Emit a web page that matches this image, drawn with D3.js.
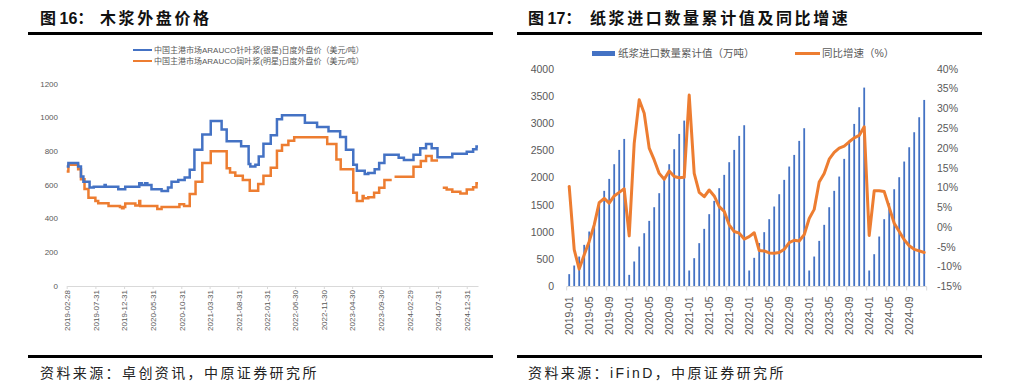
<!DOCTYPE html>
<html><head><meta charset="utf-8">
<script src="https://cdn.jsdelivr.net/npm/d3@7"></script>
<style>
body{margin:0;background:#fff;}
svg{display:block;font-family:"Liberation Sans","Noto Sans CJK SC",sans-serif;}
</style></head><body>
<svg id="c" width="1021" height="383"></svg>
<script>
// ---------- Chart 16 data: step prices (date, USD/t) ----------
const needlePrice = [
["2019-02-28",710],["2019-03-09",730],["2019-04-30",710],["2019-05-15",650],["2019-05-28",620],
["2019-06-30",585],["2019-07-22",590],["2019-09-18",600],["2019-09-24",590],["2019-11-30",575],
["2020-01-06",590],["2020-03-21",610],["2020-04-03",600],["2020-04-21",610],["2020-05-03",600],
["2020-05-25",575],["2020-07-18",565],["2020-08-21",585],["2020-09-09",620],["2020-10-15",630],
["2020-11-18",645],["2020-12-15",690],["2021-01-09",810],["2021-02-20",900],["2021-04-06",980],
["2021-06-03",930],["2021-06-30",860],["2021-09-15",830],["2021-10-25",725],["2021-11-03",710],
["2021-11-30",720],["2021-12-18",770],["2022-01-12",845],["2022-02-20",895],["2022-03-25",990],
["2022-04-21",1015],["2022-08-21",970],["2022-10-25",945],["2022-12-25",920],["2023-02-25",885],
["2023-03-28",810],["2023-05-06",720],["2023-05-25",685],["2023-07-06",665],["2023-07-25",672],
["2023-08-28",693],["2023-09-21",730],["2023-10-19",780],["2024-01-03",762],["2024-01-31",748],
["2024-03-22",780],["2024-04-27",818],["2024-05-28",843],["2024-06-27",818],["2024-07-28",765],
["2024-10-15",785],["2024-12-31",798],["2025-02-03",812],["2025-02-21",828],["2025-03-01",828]
];
const hardwoodPrice = [
["2019-02-28",680],["2019-03-09",720],["2019-04-30",693],["2019-05-15",634],["2019-06-03",576],
["2019-06-24",525],["2019-07-31",505],["2019-08-15",491],["2019-10-09",475],["2019-12-09",470],
["2019-12-20",462],["2019-12-28",470],["2020-01-06",490],["2020-02-29",478],["2020-03-21",505],
["2020-03-26",475],["2020-06-25",457],["2020-07-18",470],["2020-10-21",485],["2020-11-15",475],
["2020-12-15",546],["2021-01-15",620],["2021-02-20",730],["2021-04-06",800],["2021-06-30",700],
["2021-07-18",675],["2021-08-15",655],["2021-09-24",630],["2021-10-31",566],["2021-12-15",606],
["2022-01-12",655],["2022-02-20",703],["2022-03-25",804],["2022-04-21",838],["2022-05-25",863],
["2022-06-25",883],["2022-12-18",843],["2023-02-05",752],["2023-02-28",693],["2023-05-06",554],
["2023-05-25",505],["2023-06-25",535],["2023-06-30",521],["2023-07-25",527],["2023-08-25",554],
["2023-09-21",584],["2023-10-19",630],["2023-11-27",630],["2023-11-28",null],["2023-12-12",649],
["2024-03-22",709],["2024-04-30",743],["2024-05-28",772],["2024-06-27",745],["2024-07-31",745],
["2024-08-01",null],["2024-08-25",584],["2024-09-15",574],["2024-10-15",560],["2024-11-27",550],
["2024-12-31",574],["2025-02-03",586],["2025-02-21",610],["2025-03-01",610]
];
const ticks16 = ["2019-02-28","2019-07-31","2019-12-31","2020-05-31","2020-10-31","2021-03-31",
"2021-08-31","2022-01-31","2022-06-30","2022-11-30","2023-04-30","2023-09-30","2024-02-29",
"2024-07-31","2024-12-31"];
const yTicks16 = [0,200,400,600,800,1000,1200];
const legend16 = ["中国主港市场ARAUCO针叶浆(银星)日度外盘价（美元/吨）","中国主港市场ARAUCO阔叶浆(明星)日度外盘价（美元/吨）"];

// ---------- Chart 17 data ----------
const months17 = [
"2019-01","2019-02","2019-03","2019-04","2019-05","2019-06","2019-07","2019-08","2019-09","2019-10","2019-11","2019-12",
"2020-01","2020-02","2020-03","2020-04","2020-05","2020-06","2020-07","2020-08","2020-09","2020-10","2020-11","2020-12",
"2021-01","2021-02","2021-03","2021-04","2021-05","2021-06","2021-07","2021-08","2021-09","2021-10","2021-11","2021-12",
"2022-01","2022-02","2022-03","2022-04","2022-05","2022-06","2022-07","2022-08","2022-09","2022-10","2022-11","2022-12",
"2023-01","2023-02","2023-03","2023-04","2023-05","2023-06","2023-07","2023-08","2023-09","2023-10","2023-11","2023-12",
"2024-01","2024-02","2024-03","2024-04","2024-05","2024-06","2024-07","2024-08","2024-09","2024-10","2024-11","2024-12"];
const importCum = [
227,386,551,766,1011,1170,1500,1759,1979,2249,2512,2714,
214,460,735,980,1207,1458,1716,1961,2249,2525,2806,3051,
294,521,797,1060,1330,1575,1808,2053,2286,2512,2770,2966,
294,527,800,999,1238,1471,1697,1961,2206,2420,2678,2911,
294,551,839,1134,1458,1759,2022,2347,2665,2990,3297,3658,
294,594,919,1238,1530,1789,2010,2298,2561,2837,3113,3431];
const yoyPct = [
10.3,-5.7,-10.6,-7.0,-3.6,0.6,6.2,7.3,6.1,7.9,8.8,9.7,
-2.2,21.2,32.2,28.8,20.0,17.0,13.6,12.1,14.2,12.8,12.5,12.6,
33.4,13.6,8.8,7.7,9.4,7.9,5.2,4.0,0.6,-1.1,-1.5,-3.0,
-2.4,-1.4,-5.9,-6.0,-6.5,-6.6,-6.4,-5.6,-3.9,-3.3,-3.5,-1.9,
2.2,4.5,11.4,13.6,17.2,18.9,20.0,20.5,21.6,22.6,23.2,25.4,
-2.1,9.2,9.2,9.0,5.0,1.0,-1.1,-3.2,-4.7,-5.6,-6.0,-6.4];
const yTicksL17 = [0,500,1000,1500,2000,2500,3000,3500,4000];
const yTicksR17 = [-15,-10,-5,0,5,10,15,20,25,30,35,40];
const legend17 = ["纸浆进口数量累计值（万吨）","同比增速（%）"];

// ---------- drawing ----------
const svg = d3.select("#c");
const parse = d3.timeParse("%Y-%m-%d");
const gray = "#595959", blue = "#4472C4", orange = "#ED7D31", axisGray = "#d9d9d9";
svg.append("rect").attr("width",1021).attr("height",383).attr("fill","#fff");

function header(x0, num, numX, rest, restX, ruleX0, ruleX1, source){
  const t = svg.append("text").attr("y",24).attr("font-size",16).attr("font-weight","bold").attr("fill","#111");
  t.append("tspan").attr("x",x0).text("图");
  t.append("tspan").attr("x",numX).text(num + "：");
  t.append("tspan").attr("x",restX).attr("letter-spacing",2.6).text(rest);
  svg.append("rect").attr("x",ruleX0).attr("y",32).attr("width",ruleX1-ruleX0).attr("height",3).attr("fill","#000");
  svg.append("rect").attr("x",ruleX0).attr("y",355).attr("width",ruleX1-ruleX0).attr("height",3).attr("fill","#000");
  svg.append("text").attr("x",x0).attr("y",378).attr("font-size",14).attr("letter-spacing",2.4)
    .attr("fill","#222").text(source);
}
header(40,"16",59.5,"木浆外盘价格",100,28,493,"资料来源：卓创资讯，中原证券研究所");
header(528,"17",547.5,"纸浆进口数量累计值及同比增速",590,517,982,"资料来源：iFinD，中原证券研究所");

// ===== Chart 16 =====
const x16 = d3.scaleTime().domain([parse("2019-02-28"), parse("2025-03-01")]).range([66.7, 478]);
const y16 = d3.scaleLinear().domain([0,1200]).range([286,84]);
const g16 = svg.append("g");
g16.selectAll("text.yl").data(yTicks16).join("text").attr("class","yl")
  .attr("x",58).attr("y",d=>y16(d)).attr("dy","0.35em").attr("text-anchor","end")
  .attr("font-size",8).attr("fill",gray).text(d=>d);
const ax16 = g16.append("g").attr("transform","translate(0,286)")
  .call(d3.axisBottom(x16).tickValues(ticks16.map(parse)).tickSize(3).tickSizeOuter(0)
  .tickFormat(d3.timeFormat("%Y-%m-%d")));
ax16.select(".domain").attr("stroke",axisGray);
ax16.selectAll(".tick line").attr("stroke",axisGray);
ax16.selectAll(".tick text").attr("transform","rotate(-90)").attr("text-anchor","end")
  .attr("x",-4).attr("y",0).attr("dy","0.35em").attr("font-size",8).attr("fill",gray)
  .attr("font-family","Liberation Sans");
const line16 = d3.line().defined(d=>d[1]!=null).x(d=>x16(parse(d[0]))).y(d=>y16(d[1])).curve(d3.curveStepAfter);
g16.append("path").datum(hardwoodPrice).attr("d",line16).attr("fill","none").attr("stroke",orange).attr("stroke-width",2.5);
g16.append("path").datum(needlePrice).attr("d",line16).attr("fill","none").attr("stroke",blue).attr("stroke-width",2.5);
[blue,orange].forEach((c,i)=>{
  const yy = 50 + i*11;
  g16.append("line").attr("x1",133).attr("x2",152).attr("y1",yy).attr("y2",yy).attr("stroke",c).attr("stroke-width",2);
  g16.append("text").attr("x",154).attr("y",yy).attr("dy","0.35em").attr("font-size",8).attr("fill",gray).text(legend16[i]);
});

// ===== Chart 17 =====
const xb = d3.scaleBand().domain(months17).range([566.7, 926.7]).padding(0);
const yL = d3.scaleLinear().domain([0,4000]).range([286.5,69]);
const yR = d3.scaleLinear().domain([-15,40]).range([286.5,69]);
const g17 = svg.append("g");
const bw = 1.8;
g17.selectAll("rect.bar").data(months17).join("rect").attr("class","bar")
  .attr("x",(m)=>xb(m)+xb.bandwidth()/2-bw/2).attr("width",bw)
  .attr("y",(m,i)=>yL(importCum[i])).attr("height",(m,i)=>yL(0)-yL(importCum[i]))
  .attr("fill",blue);
// axis
g17.append("line").attr("x1",xb.range()[0]).attr("x2",xb.range()[1]).attr("y1",yL(0)).attr("y2",yL(0)).attr("stroke",axisGray);
const tickCats = months17.filter((m,i)=>i%4===0);
g17.selectAll("line.tk").data(tickCats.map(m=>xb(m)).concat([xb.range()[1]])).join("line").attr("class","tk")
  .attr("x1",d=>d).attr("x2",d=>d).attr("y1",yL(0)).attr("y2",yL(0)+4).attr("stroke",axisGray);
g17.selectAll("text.xl").data(tickCats).join("text").attr("class","xl")
  .attr("transform",m=>`translate(${xb(m)+xb.bandwidth()/2},${yL(0)+10}) rotate(-90)`)
  .attr("text-anchor","end").attr("dy","0.35em").attr("font-size",10.5).attr("fill",gray).text(m=>m);
g17.selectAll("text.yl").data(yTicksL17).join("text").attr("class","yl")
  .attr("x",554).attr("y",d=>yL(d)).attr("dy","0.35em").attr("text-anchor","end")
  .attr("font-size",10.5).attr("fill",gray).text(d=>d);
g17.selectAll("text.yr").data(yTicksR17).join("text").attr("class","yr")
  .attr("x",937).attr("y",d=>yR(d)).attr("dy","0.35em").attr("text-anchor","start")
  .attr("font-size",10.5).attr("fill",gray).text(d=>d+"%");
const line17 = d3.line().x((d,i)=>xb(months17[i])+xb.bandwidth()/2).y(d=>yR(d));
g17.append("path").datum(yoyPct).attr("d",line17).attr("fill","none").attr("stroke",orange)
  .attr("stroke-width",3).attr("stroke-linejoin","round").attr("stroke-linecap","round");
// legend
g17.append("rect").attr("x",592).attr("y",51).attr("width",23).attr("height",5).attr("fill",blue);
g17.append("text").attr("x",618).attr("y",53.5).attr("dy","0.35em").attr("font-size",10.5).attr("fill",gray).text(legend17[0]);
g17.append("line").attr("x1",795).attr("x2",820).attr("y1",53.5).attr("y2",53.5).attr("stroke",orange).attr("stroke-width",3);
g17.append("text").attr("x",822).attr("y",53.5).attr("dy","0.35em").attr("font-size",10.5).attr("fill",gray).text(legend17[1]);
</script>
</body></html>
